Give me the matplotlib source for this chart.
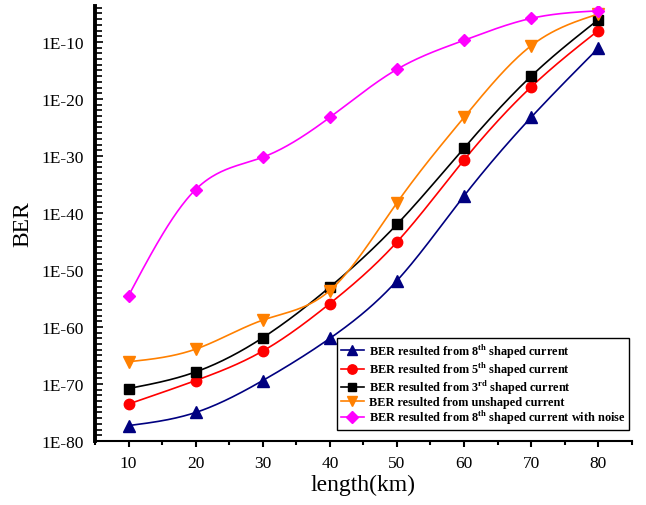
import numpy as np
import matplotlib
matplotlib.use("Agg")
import matplotlib.pyplot as plt
from matplotlib.ticker import FixedLocator, FuncFormatter

plt.rcParams['font.family'] = ['Liberation Serif', 'DejaVu Serif']
plt.rcParams['mathtext.fontset'] = 'custom'
plt.rcParams['mathtext.rm'] = 'Liberation Serif'
plt.rcParams['mathtext.bf'] = 'Liberation Serif:bold'

length = np.array([10, 20, 30, 40, 50, 60, 70, 80])

ber_8th = np.array([5e-78, 1e-75, 4e-70, 1e-62, 1.3e-52, 1e-37, 6e-24, 8e-12])
ber_5th = np.array([3e-74, 4e-70, 6e-65, 1.3e-56, 8e-46, 2e-31, 1.3e-18, 1e-8])
ber_3rd = np.array([1.6e-71, 1.3e-68, 1.3e-62, 1e-53, 1e-42, 2.5e-29, 1e-16, 8e-7])
ber_unshaped = np.array([8e-67, 1.3e-64, 1.6e-59, 2.5e-54, 6e-39, 6e-24, 2.2e-11, 8e-6])
ber_noise = np.array([3e-55, 1.3e-36, 6e-31, 6e-24, 1.6e-15, 2e-10, 1.4e-6, 3e-5])

labels = [
    r'BER resulted from 8$^{\mathbf{th}}$ shaped current',
    r'BER resulted from 5$^{\mathbf{th}}$ shaped current',
    r'BER resulted from 3$^{\mathbf{rd}}$ shaped current',
    'BER resulted from unshaped current',
    r'BER resulted from 8$^{\mathbf{th}}$ shaped current with noise',
]


def nat_spline(x, y, xx):
    # natural cubic spline through (x, y)
    n = len(x)
    h = np.diff(x).astype(float)
    A = np.zeros((n, n))
    r = np.zeros(n)
    A[0, 0] = A[-1, -1] = 1
    for i in range(1, n - 1):
        A[i, i - 1] = h[i - 1]
        A[i, i] = 2 * (h[i - 1] + h[i])
        A[i, i + 1] = h[i]
        r[i] = 6 * ((y[i + 1] - y[i]) / h[i] - (y[i] - y[i - 1]) / h[i - 1])
    m = np.linalg.solve(A, r)
    k = np.clip(np.searchsorted(x, xx) - 1, 0, n - 2)
    t = xx - x[k]
    hk = h[k]
    a = y[k]
    b = (y[k + 1] - y[k]) / hk - hk * (2 * m[k] + m[k + 1]) / 6
    c = m[k] / 2
    d = (m[k + 1] - m[k]) / (6 * hk)
    return a + b * t + c * t**2 + d * t**3


fig = plt.figure(figsize=(6.46, 5.06), dpi=100)
ax = fig.add_axes([0.147, 0.1265, 0.831, 0.8595])
ax.set_yscale('log')

xx = np.linspace(10, 80, 300)
series = [
    (ber_8th, '#000080', '^', 8),
    (ber_5th, '#ff0000', 'o', 7.5),
    (ber_3rd, '#000000', 's', 6.5),
    (ber_unshaped, '#ff8000', 'v', 8),
    (ber_noise, '#ff00ff', 'D', 6.5),
]
handles = []
for (ber, col, mk, ms), lab in zip(series, labels):
    yy = 10.0 ** nat_spline(length, np.log10(ber), xx)
    ax.plot(xx, yy, color=col, lw=1.2)
    ax.plot(length, ber, mk, color=col, ms=ms, mec=col)
    h, = ax.plot([], [], color=col, lw=1.2, marker=mk, ms=ms * 0.9, mec=col, label=lab)
    handles.append(h)

ax.set_xlim(5, 85)
ax.set_ylim(1e-80, 10 ** -3.7)

ax.xaxis.set_major_locator(FixedLocator(np.arange(10, 81, 10)))
ax.xaxis.set_minor_locator(FixedLocator(np.arange(5, 86, 10)))
ax.yaxis.set_major_locator(FixedLocator([10.0 ** k for k in range(-80, -9, 10)]))
ax.yaxis.set_minor_locator(FixedLocator([10.0 ** k for k in range(-80, -3)]))
ax.yaxis.set_major_formatter(FuncFormatter(lambda v, p: '1E%d' % round(np.log10(v))))
ax.yaxis.set_minor_formatter(FuncFormatter(lambda v, p: ''))

ax.spines['top'].set_visible(False)
ax.spines['right'].set_visible(False)
ax.spines['left'].set_linewidth(2.8)
ax.spines['bottom'].set_linewidth(1.5)

ax.tick_params(axis='y', which='major', direction='in', length=6, width=1.2, labelsize=12.5, pad=8)
ax.tick_params(axis='y', which='minor', direction='in', length=5, width=1.2)
ax.tick_params(axis='x', which='major', direction='out', length=4, width=1.5, labelsize=12.5, pad=6)
ax.tick_params(axis='x', which='minor', direction='out', length=3, width=1.5)

ax.set_xlabel('length(km)', fontsize=17, labelpad=2)
ax.set_ylabel('BER', fontsize=17, labelpad=6)

leg = ax.legend(handles=handles, loc='lower right', bbox_to_anchor=(0.999, 0.02),
                prop={'family': 'Liberation Serif', 'weight': 'bold', 'size': 8.8},
                frameon=True, fancybox=False, edgecolor='black', framealpha=1,
                labelspacing=0.0, handlelength=1.9, handletextpad=0.4,
                borderpad=0.3, borderaxespad=0.2)
leg.get_frame().set_linewidth(1.0)

fig.savefig('out.png', dpi=100)
